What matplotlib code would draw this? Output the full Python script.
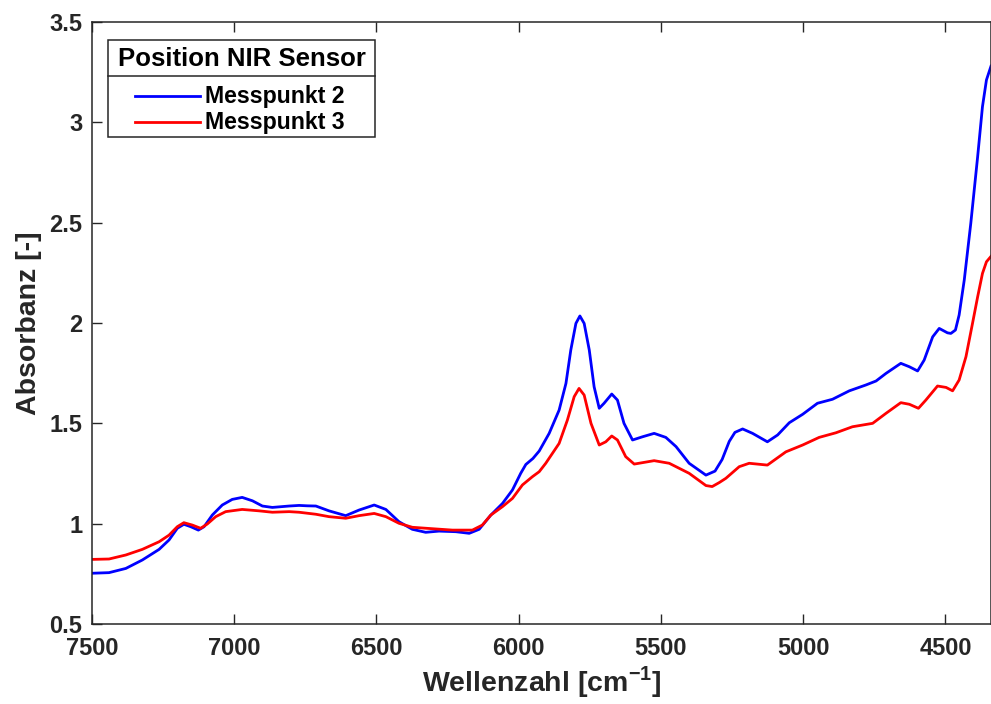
"""NIR absorbance spectra at two sensor positions."""

import matplotlib

matplotlib.use("Agg")
import matplotlib.pyplot as plt
from matplotlib.lines import Line2D
from matplotlib.patches import Rectangle

plt.rcParams["font.family"] = ["Liberation Sans", "DejaVu Sans"]
plt.rcParams["font.weight"] = "bold"
plt.rcParams["mathtext.fontset"] = "custom"
plt.rcParams["mathtext.bf"] = "Liberation Sans:bold"
plt.rcParams["mathtext.rm"] = "Liberation Sans:bold"

# wavenumber [cm^-1] / absorbance
wn_mp2 = [7500, 7440, 7381, 7323, 7264, 7229, 7200, 7177, 7153, 7126, 7106, 7077,
          7042, 7007, 6972, 6936, 6901, 6866, 6807, 6772, 6743, 6713, 6667, 6608,
          6561, 6508, 6467, 6421, 6374, 6327, 6280, 6221, 6174, 6139, 6098, 6057,
          6022, 5993, 5975, 5950, 5928, 5893, 5858, 5834, 5817, 5799, 5785, 5770,
          5752, 5735, 5717, 5700, 5673, 5653, 5630, 5600, 5565, 5524, 5483, 5447,
          5401, 5342, 5310, 5285, 5260, 5240, 5213, 5178, 5126, 5090, 5049, 5002,
          4950, 4897, 4838, 4780, 4744, 4709, 4657, 4627, 4598, 4575, 4545, 4522,
          4493, 4481, 4465, 4452, 4434, 4411, 4387, 4370, 4356, 4340]
abs_mp2 = [0.753, 0.756, 0.777, 0.819, 0.872, 0.919, 0.977, 0.997, 0.985, 0.968, 0.985, 1.043,
           1.093, 1.121, 1.131, 1.114, 1.088, 1.081, 1.088, 1.091, 1.089, 1.088, 1.064, 1.040,
           1.068, 1.093, 1.071, 1.010, 0.972, 0.957, 0.963, 0.960, 0.952, 0.972, 1.043, 1.101,
           1.168, 1.251, 1.295, 1.325, 1.362, 1.450, 1.566, 1.699, 1.865, 1.998, 2.035, 1.998,
           1.865, 1.682, 1.575, 1.600, 1.646, 1.616, 1.500, 1.417, 1.433, 1.450, 1.430, 1.384,
           1.301, 1.242, 1.262, 1.320, 1.410, 1.455, 1.472, 1.450, 1.408, 1.442, 1.503, 1.545,
           1.600, 1.620, 1.662, 1.691, 1.711, 1.749, 1.799, 1.782, 1.761, 1.815, 1.931, 1.973,
           1.951, 1.948, 1.965, 2.040, 2.214, 2.497, 2.828, 3.078, 3.211, 3.280]

wn_mp3 = [7500, 7440, 7381, 7323, 7264, 7229, 7200, 7177, 7147, 7118, 7095, 7065,
          7030, 6972, 6913, 6866, 6807, 6772, 6713, 6667, 6608, 6561, 6508, 6467,
          6421, 6374, 6304, 6233, 6163, 6128, 6098, 6057, 6022, 5987, 5952, 5928,
          5905, 5858, 5829, 5805, 5788, 5770, 5746, 5717, 5694, 5673, 5653, 5624,
          5594, 5524, 5471, 5401, 5342, 5320, 5295, 5272, 5225, 5190, 5126, 5061,
          5002, 4944, 4885, 4827, 4756, 4709, 4657, 4627, 4595, 4569, 4528, 4498,
          4475, 4452, 4428, 4405, 4387, 4370, 4356, 4340]
abs_mp3 = [0.822, 0.824, 0.844, 0.872, 0.910, 0.943, 0.985, 1.005, 0.993, 0.977, 0.998, 1.035,
           1.060, 1.071, 1.064, 1.057, 1.060, 1.057, 1.047, 1.035, 1.027, 1.040, 1.051, 1.035,
           1.002, 0.982, 0.975, 0.968, 0.968, 0.993, 1.043, 1.085, 1.126, 1.193, 1.234, 1.259,
           1.301, 1.400, 1.516, 1.633, 1.674, 1.641, 1.500, 1.392, 1.408, 1.437, 1.417, 1.334,
           1.297, 1.314, 1.301, 1.251, 1.190, 1.185, 1.205, 1.226, 1.284, 1.301, 1.292, 1.358,
           1.392, 1.430, 1.453, 1.483, 1.500, 1.550, 1.603, 1.595, 1.575, 1.616, 1.686, 1.679,
           1.662, 1.716, 1.832, 1.998, 2.130, 2.247, 2.305, 2.332]

series_labels = ["Messpunkt 2", "Messpunkt 3"]
series_colors = ["#0000FF", "#FF0000"]
legend_title = "Position NIR Sensor"

x_ticks = [7500, 7000, 6500, 6000, 5500, 5000, 4500]
y_ticks = [0.5, 1, 1.5, 2, 2.5, 3, 3.5]
y_ticklabels = ["0.5", "1", "1.5", "2", "2.5", "3", "3.5"]

dark = "#262626"

fig = plt.figure(figsize=(9.91, 7.04), dpi=100)
ax = fig.add_axes([0.0928, 0.1136, 0.9072, 0.8552])

ax.plot(wn_mp2, abs_mp2, color=series_colors[0], linewidth=2.0)
ax.plot(wn_mp3, abs_mp3, color=series_colors[1], linewidth=2.0)

ax.set_xlim(7500, 4340)
ax.set_ylim(0.5, 3.5)
ax.set_xticks(x_ticks)
ax.set_xticklabels([str(t) for t in x_ticks])
ax.set_yticks(y_ticks)
ax.set_yticklabels(y_ticklabels)
ax.tick_params(direction="in", length=7, width=1.0, colors=dark, labelsize=17,
               top=True, right=False)
ax.tick_params(axis="x", pad=9)
ax.tick_params(axis="y", pad=7)
for lab in ax.get_xticklabels() + ax.get_yticklabels():
    lab.set_fontweight("bold")
for side in ["left", "bottom", "top", "right"]:
    ax.spines[side].set_color(dark)
    ax.spines[side].set_linewidth(1.1)

ax.set_xlabel(r"Wellenzahl [cm$^{\mathbf{-1}}$]", fontsize=20.5, fontweight="bold",
              color=dark, labelpad=3)
ax.set_ylabel("Absorbanz [-]", fontsize=20.5, fontweight="bold", color=dark, labelpad=5)

# MATLAB-style legend box with a titled header row (figure fraction coords)
W, H = 991.0, 704.0
box_l, box_r, box_t, box_b, sep = 108 / W, 375 / W, 1 - 40 / H, 1 - 137 / H, 1 - 76 / H
fig.add_artist(Rectangle((box_l, box_b), box_r - box_l, box_t - box_b, transform=fig.transFigure,
                         facecolor="white", edgecolor=dark, linewidth=1.1, zorder=5))
fig.add_artist(Line2D([box_l, box_r], [sep, sep], color=dark, linewidth=1.1, zorder=6))
fig.text((box_l + box_r) / 2, 1 - 58.5 / H, legend_title, ha="center", va="center",
         fontsize=18.5, fontweight="bold", color="black", zorder=7)
row_y = [1 - 96 / H, 1 - 122 / H]
for lbl, col, yy in zip(series_labels, series_colors, row_y):
    fig.add_artist(Line2D([135 / W, 200 / W], [yy, yy], color=col, linewidth=2.0, zorder=7))
    fig.text(205 / W, yy, lbl, ha="left", va="center", fontsize=16.7, fontweight="bold",
             color="black", zorder=7)

fig.savefig("out.png", dpi=100)
plt.close(fig)
